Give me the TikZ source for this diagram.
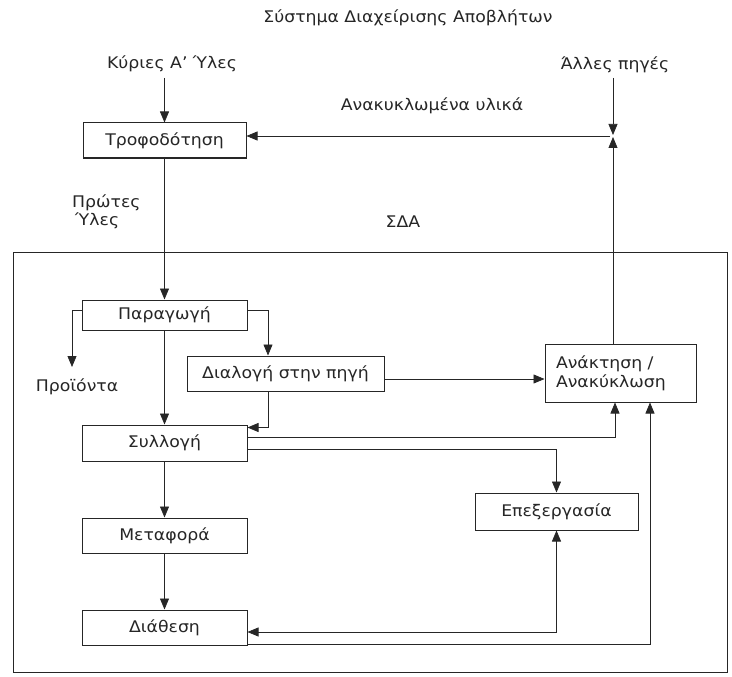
\documentclass[tikz,border=0pt]{standalone}
\usepackage{fontspec}
\setmainfont{DejaVu Sans}[FakeStretch=1.08]
\usetikzlibrary{arrows.meta}
\definecolor{ink}{HTML}{262626}
\begin{document}
\begin{tikzpicture}[x=1pt,y=-1pt,
  every node/.style={text=ink,font=\fontsize{16}{19}\selectfont},
  box/.style={draw=ink,line width=1pt,inner sep=0pt,minimum height=35pt},
  lbl/.style={inner sep=2pt},
  conn/.style={draw=ink,line width=0.75pt},
  tip/.tip={Triangle[length=11pt,width=9pt]},
  arr/.style={conn,-tip},
  arrtwo/.style={conn,tip-tip}]
\useasboundingbox[fill=white] (0,0) rectangle (732,677);

% frame of the waste management system
\draw[draw=ink,line width=1pt] (13,252) rectangle (727,672);

% labels
\node[lbl] (title) at (408,18) {Σύστημα Διαχείρισης Αποβλήτων};
\node[lbl] (kyr) at (172,64) {Κύριες Α' Ύλες};
\node[lbl] (all) at (615,65) {Άλλες πηγές};
\node[lbl] (anakl) at (432,106) {Ανακυκλωμένα υλικά};
\node[lbl,anchor=west,align=left] (prot) at (70,212) {Πρώτες\\[-1pt]\hspace*{3pt}Ύλες};
\node[lbl] (sda) at (403,222) {ΣΔΑ};
\node[lbl] (prod) at (77,387) {Προϊόντα};

% boxes
\node[box,minimum width=163pt] (tro) at (164.5,140.5) {Τροφοδότηση};
\node[box,minimum width=165pt,minimum height=30pt] (par) at (164.5,315) {Παραγωγή};
\node[box,minimum width=197pt] (dial) at (285.5,373.5) {Διαλογή στην πηγή};
\node[box,minimum width=151pt,minimum height=58pt,align=left,text width=129pt] (anak) at (620.5,373) {Ανάκτηση /\\Ανακύκλωση};
\node[box,minimum width=165pt,minimum height=36pt] (syl) at (164.5,443) {Συλλογή};
\node[box,minimum width=163pt,minimum height=37pt] (epex) at (556.5,511.5) {Επεξεργασία};
\node[box,minimum width=165pt] (met) at (164.5,535.5) {Μεταφορά};
\node[box,minimum width=165pt] (dia) at (164.5,627.5) {Διάθεση};

% junction of recycled materials
\coordinate (J) at (613,136);
\coordinate (prodtip) at (72,367);

% connectors
\draw[arr] (tro.north |- 0,78) -- (tro.north);
\draw[arr] (J |- 0,78) -- ([yshift=1pt]J);
\draw[arr] (J |- anak.north) -- ([yshift=-1pt]J);
\draw[arr] ([xshift=-3pt]J) -- (J -| tro.east);
\draw[arr] (tro.south) -- (par.north);
\draw[arr] ([yshift=5pt]par.west) -| (prodtip);
\draw[arr] ([yshift=5pt]par.east) -| ([xshift=-17.5pt]dial.north);
\draw[arr] ([yshift=-5.5pt]dial.east) -- ([yshift=-5.5pt]dial.east -| anak.west);
\draw[arr] (par.south) -- (syl.north);
\draw[arr] ([xshift=-17.5pt]dial.south) |- ([yshift=-3pt]syl.north east);
\draw[arr] ([yshift=6pt]syl.east) -| ([xshift=-5.5pt]anak.south);
\draw[arr] ([yshift=-6pt]syl.east) -| (epex.north);
\draw[arr] (syl.south) -- (met.north);
\draw[arr] (met.south) -- (dia.north);
\draw[arrtwo] (epex.south) |- ([yshift=-4.5pt]dia.east);
\draw[arr] ([yshift=1pt]dia.south east) -| ([xshift=29.5pt]anak.south);
\end{tikzpicture}
\end{document}
